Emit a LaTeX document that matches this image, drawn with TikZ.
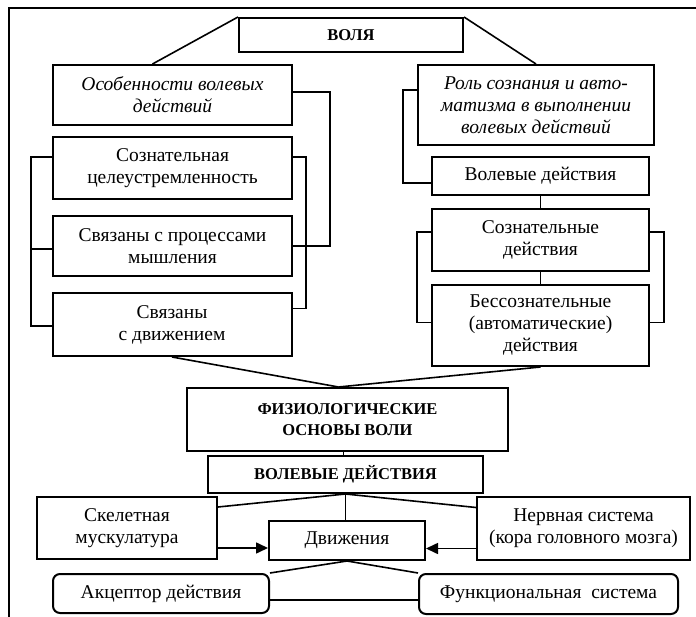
\documentclass[tikz,border=0pt]{standalone}
\usepackage{fontspec}
\setmainfont{Liberation Serif}
\usetikzlibrary{positioning, arrows.meta, calc}
\tikzset{
  blok/.style={rectangle, draw=black, line width=2pt, align=center, inner sep=2pt, font=\fontsize{19.5}{22}\selectfont},
  okr/.style={blok, rounded corners=7pt},
  zag/.style={blok, font=\fontsize{16.5}{21}\selectfont\bfseries},
  kursiv/.style={blok, font=\fontsize{19.5}{22}\selectfont\itshape},
  svyaz/.style={line width=1.6pt},
  arrow/.style={line width=1.6pt, -{Triangle[length=12pt,width=11pt]}}
}
\begin{document}
\begin{tikzpicture}[x=1pt, y=-1pt]
    \useasboundingbox (0,0) rectangle (696,617);

    % --- Рамка ---
    \draw[line width=2.4pt] (9,617) -- (9,8) -- (696,8);

    % --- Верхняя часть ---
    \node (volya) [zag, minimum width=224pt, minimum height=34pt] at (351,35) {ВОЛЯ};
    \node (osob) [kursiv, minimum width=239pt, minimum height=60pt] at (172.5,95) {Особенности волевых\\ действий};
    \node (rol) [kursiv, minimum width=236pt, minimum height=80pt] at (536,105) {Роль сознания и авто-\\матизма в выполнении\\ волевых действий};

    % Левая колонка
    \node (celeustr) [blok, minimum width=239pt, minimum height=62pt] at (172.5,168) {Сознательная\\ целеустремленность};
    \node (myshl) [blok, minimum width=239pt, minimum height=60pt] at (172.5,246) {Связаны с процессами\\ мышления};
    \node (dvizh) [blok, minimum width=239pt, minimum height=63pt] at (172,324.5) {Связаны\\ с движением};

    % Правая колонка
    \node (voldeist) [blok, minimum width=217pt, minimum height=38pt] at (540.5,176) {Волевые действия};
    \node (soznd) [blok, minimum width=217pt, minimum height=62pt] at (540.5,240) {Сознательные\\ действия};
    \node (bessozn) [blok, minimum width=217pt, minimum height=81pt] at (540.5,325.5) {Бессознательные\\ (автоматические)\\ действия};

    % --- Нижняя часть ---
    \node (fiziol) [zag, minimum width=321pt, minimum height=63pt] at (347.5,419.5) {ФИЗИОЛОГИЧЕСКИЕ\\ ОСНОВЫ ВОЛИ};
    \node (voldcap) [zag, minimum width=275pt, minimum height=37pt] at (345.5,474.5) {ВОЛЕВЫЕ ДЕЙСТВИЯ};
    \node (skelet) [blok, minimum width=180pt, minimum height=62pt] at (127,528) {Скелетная\\ мускулатура};
    \node (nerv) [blok, minimum width=213pt, minimum height=63pt] at (583.5,528.5) {Нервная система\\ (кора головного мозга)};
    \node (dvizhen) [blok, minimum width=156pt, minimum height=39pt] at (347,540.5) {Движения};
    \node (akcept) [okr, minimum width=216pt, minimum height=39pt] at (161,593.5) {Акцептор действия};
    \node (funkc) [okr, minimum width=259pt, minimum height=40pt] at (548.5,594) {Функциональная\enspace система};

    % --- Связи: воля ---
    \draw [svyaz] (volya.north west) -- ([xshift=-20pt]osob.north);
    \draw [svyaz] (volya.north east) -- (rol.north);

    % Скобки левой колонки
    \draw [svyaz] ([yshift=3pt]osob.east) -- ++(37,0) |- (myshl.east);
    \draw [svyaz] ([yshift=11pt]celeustr.east) -- ++(13,0) |- ([yshift=16pt]dvizh.east);
    \draw [svyaz] ([yshift=11pt]celeustr.west) -- ++(-21,0) |- ([yshift=-1.5pt]dvizh.west);
    \draw [svyaz] ([yshift=-3pt]myshl.west) -- ++(-21,0);

    % Скобки правой колонки
    \draw [svyaz] ([yshift=15pt]rol.west) -- ++(-14,0) |- ([yshift=-7pt]voldeist.west);
    \draw [svyaz] (voldeist.south) -- (soznd.north);
    \draw [svyaz] (soznd.south) -- (bessozn.north);
    \draw [svyaz] ([yshift=8pt]soznd.west) -- ++(-14,0) |- ([yshift=3pt]bessozn.west);
    \draw [svyaz] ([yshift=8pt]soznd.east) -- ++(14,0) |- ([yshift=3pt]bessozn.east);

    % --- Физиологические основы ---
    \coordinate (fiz_in) at ([xshift=-9pt]fiziol.north);
    \draw [svyaz] (dvizh.south) -- (fiz_in);
    \draw [svyaz] (bessozn.south) -- (fiz_in);
    \draw [svyaz] ([xshift=-4pt]fiziol.south) -- ([xshift=-2pt]voldcap.north);

    \draw [svyaz] (voldcap.south) -- (voldcap.south |- dvizhen.north);
    \draw [svyaz] (voldcap.south) -- ([yshift=21pt]skelet.east);
    \draw [svyaz] (voldcap.south) -- ([yshift=21pt]nerv.west);
    \draw [arrow] ([yshift=-20pt]skelet.east) -- ([yshift=-20pt]skelet.east -| dvizhen.west);
    \draw [arrow] ([yshift=-20pt]nerv.west) -- ([yshift=-20pt]nerv.west -| dvizhen.east);

    \draw [svyaz] (dvizhen.south) -- (akcept.north east);
    \draw [svyaz] (dvizhen.south) -- (funkc.north west);
    \draw [svyaz] ([yshift=-6.5pt]akcept.east) -- ([yshift=-6.5pt]akcept.east -| funkc.west);
\end{tikzpicture}
\end{document}
